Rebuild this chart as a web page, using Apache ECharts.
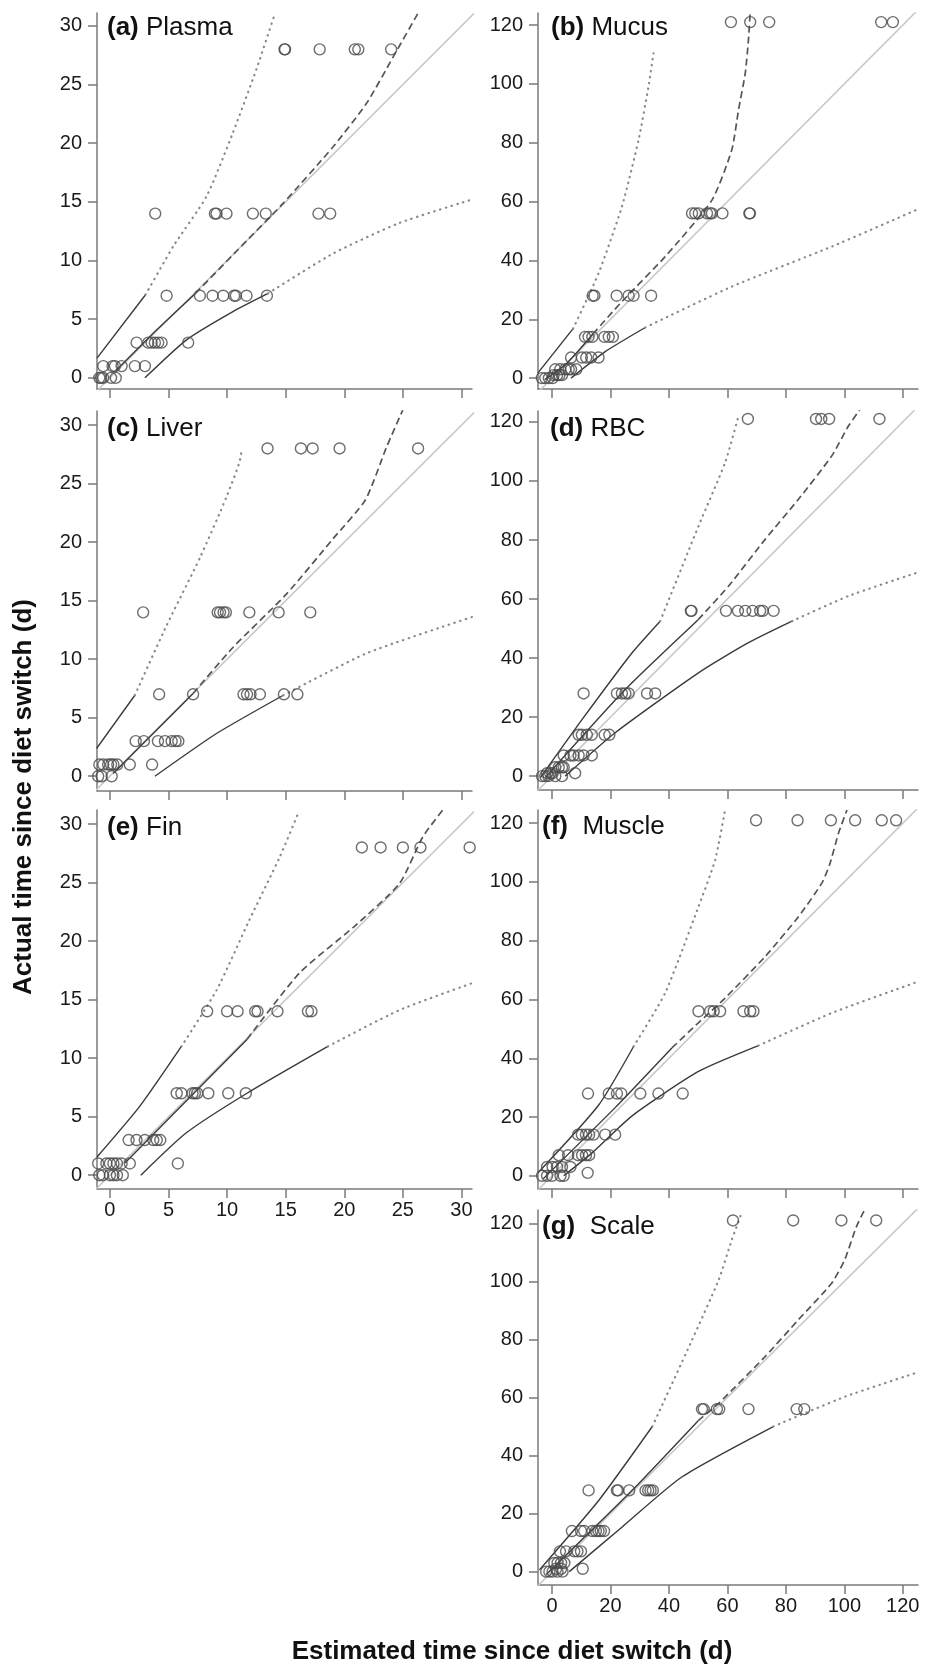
<!DOCTYPE html>
<html>
<head>
<meta charset="utf-8">
<title>Estimated vs actual time since diet switch</title>
<script src="https://cdn.jsdelivr.net/npm/echarts@6/dist/echarts.min.js"></script>
<style>
  html, body { margin: 0; padding: 0; background: #fff; }
  #main { width: 935px; height: 1669px; }
</style>
</head>
<body>
<div id="main"></div>
<script>
// tick values
const ticksShort = [0, 5, 10, 15, 20, 25, 30];
const ticksLong = [0, 20, 40, 60, 80, 100, 120];

// 1:1 reference lines
const diagShort = [[-2, -2], [32, 32]];
const diagLong = [[-6, -6], [130, 130]];

// (a) Plasma
const plasmaPoints = [
    [14.9, 28], [14.95, 28], [17.9, 28], [20.9, 28], [21.2, 28], [24.0, 28],
    [3.87, 14], [8.96, 14], [9.1, 14], [9.95, 14], [12.2, 14], [13.3, 14], [17.8, 14], [18.8, 14],
    [4.84, 7], [7.68, 7], [8.76, 7], [9.67, 7], [10.6, 7], [10.75, 7], [11.66, 7], [13.4, 7],
    [2.28, 3], [3.27, 3], [3.56, 3], [3.84, 3], [4.12, 3], [4.41, 3], [6.68, 3],
    [-0.57, 1], [0.23, 1], [0.43, 1], [1.0, 1], [2.13, 1], [2.99, 1],
    [-0.9, 0], [-0.75, 0], [-0.57, 0], [0.1, 0], [0.5, 0]
];
const plasmaUpper = [[-1.1, 1.68], [3.04, 7.08]];
const plasmaUpperExt = [[3.04, 7.08], [5.4, 11.2], [8.24, 15.46], [10.5, 20.9], [12.5, 26.3], [14.1, 31.1]];
const plasmaMid = [[0.5, 0.6], [4.0, 4.1], [7.3, 7.2]];
const plasmaMidExt = [[7.3, 7.2], [10.9, 10.9], [14.8, 14.9], [19.05, 19.7], [21.9, 23.4], [24.2, 27.4], [26.3, 31.1]];
const plasmaLower = [[2.99, 0], [6.54, 3.24], [10.5, 5.65], [13.5, 7.2]];
const plasmaLowerExt = [[13.5, 7.2], [19.05, 10.6], [24.7, 13.2], [30.9, 15.2]];

// (b) Mucus
const mucusPoints = [
    [61.2, 121], [67.8, 121], [74.3, 121], [112.6, 121], [116.6, 121],
    [47.9, 56], [49.0, 56], [50.2, 56], [53.0, 56], [54.1, 56], [54.7, 56], [58.3, 56], [67.5, 56], [67.7, 56],
    [13.9, 28], [14.5, 28], [22.1, 28], [26.2, 28], [27.9, 28], [33.9, 28],
    [11.3, 14], [12.5, 14], [13.8, 14], [17.9, 14], [19.4, 14], [20.8, 14],
    [6.5, 7], [10.2, 7], [11.7, 7], [13.4, 7], [15.9, 7],
    [1.1, 3], [2.8, 3], [4.5, 3], [5.7, 3], [6.5, 3], [8.3, 3],
    [0.5, 1], [1.7, 1], [2.5, 1], [3.4, 1],
    [-3.5, 0], [-2.3, 0], [-1.1, 0], [0.2, 0]
];
const mucusUpper = [[-4.8, 1.8], [7.2, 16.8]];
const mucusUpperExt = [[7.2, 16.8], [15.9, 35.6], [23.9, 58.3], [29.6, 81], [33, 99.1], [34.7, 110.4]];
const mucusMid = [[-2.5, -0.5], [5, 5], [14, 15]];
const mucusMidExt = [[14, 15], [23.9, 26], [38.7, 41.3], [54.7, 60.5], [61.5, 77.6], [63.8, 91.2], [66.1, 103.6], [67.2, 115], [67.8, 124.6]];
const mucusLower = [[6.5, 0], [18.2, 9], [31.9, 17.2]];
const mucusLowerExt = [[31.9, 17.2], [61.5, 31.1], [95.7, 44.7], [124.5, 57.1]];

// (c) Liver
const liverPoints = [
    [13.45, 28], [16.3, 28], [17.3, 28], [19.6, 28], [26.3, 28],
    [2.84, 14], [9.2, 14], [9.4, 14], [9.7, 14], [9.9, 14], [11.9, 14], [14.4, 14], [17.1, 14],
    [4.2, 7], [7.1, 7], [11.4, 7], [11.7, 7], [12.0, 7], [12.8, 7], [14.85, 7], [16.0, 7],
    [2.2, 3], [2.9, 3], [4.1, 3], [4.7, 3], [5.27, 3], [5.6, 3], [5.84, 3],
    [-0.9, 1], [-0.57, 1], [-0.15, 1], [0.1, 1], [0.3, 1], [0.63, 1], [1.7, 1], [3.6, 1],
    [-1.0, 0], [-0.7, 0], [0.15, 0]
];
const liverUpper = [[-1.14, 2.37], [2.13, 6.92]];
const liverUpperExt = [[2.13, 6.92], [4.8, 12.8], [7.7, 18.7], [9.96, 23.9], [11.2, 27.6], [10.9, 27.9]];
const liverMid = [[0.28, 0.23], [7.1, 7.07]];
const liverMidExt = [[7.1, 7.07], [10.5, 11.0], [15.1, 15.6], [19.05, 20.3], [21.8, 23.6], [23.6, 28.1], [25.0, 31.3]];
const liverLower = [[3.84, 0], [9.1, 3.65], [14.8, 6.92]];
const liverLowerExt = [[14.8, 6.92], [21.9, 10.5], [30.9, 13.6]];

// (d) RBC
const rbcPoints = [
    [67, 121], [90.3, 121], [92.1, 121], [94.8, 121], [112, 121],
    [47.5, 56], [47.7, 56], [59.5, 56], [63.6, 56], [66.1, 56], [68.6, 56], [71.2, 56], [72.1, 56], [75.8, 56],
    [10.8, 28], [22.2, 28], [23.9, 28], [25.1, 28], [26.2, 28], [32.5, 28], [35.3, 28],
    [9.1, 14], [10.2, 14], [11.9, 14], [13.6, 14], [18.0, 14], [19.6, 14],
    [4.0, 7], [6.3, 7], [7.4, 7], [9.1, 7], [10.8, 7], [13.6, 7],
    [1.1, 3], [2.3, 3], [3.4, 3], [4.0, 3],
    [-1.7, 1], [-0.6, 1], [0.2, 1], [7.9, 1],
    [-3.4, 0], [-2.3, 0], [-1.2, 0], [1.1, 0], [3.4, 0]
];
const rbcUpper = [[-4, -0.5], [10.3, 19.2], [27.4, 41.8], [37, 52.5]];
const rbcUpperExt = [[37, 52.5], [50.1, 84.7], [59.2, 106.2], [63.8, 122]];
const rbcMid = [[-2.3, -0.5], [25.1, 29.4], [50, 53]];
const rbcMidExt = [[50, 53], [60.4, 64.4], [72.9, 80.2], [84.3, 93.8], [95.7, 108.5], [101.4, 118.6], [105.4, 124.3]];
const rbcLower = [[4.5, 0], [21.6, 14.7], [50.1, 35], [67.2, 45.2], [82.1, 52.5]];
const rbcLowerExt = [[82.1, 52.5], [101.4, 61], [124.8, 68.9]];

// (e) Fin
const finPoints = [
    [21.5, 28], [23.1, 28], [25.0, 28], [26.5, 28], [30.7, 28],
    [8.3, 14], [10.0, 14], [10.9, 14], [12.4, 14], [12.6, 14], [14.3, 14], [16.9, 14], [17.2, 14],
    [5.7, 7], [6.1, 7], [7.05, 7], [7.25, 7], [7.45, 7], [8.4, 7], [10.1, 7], [11.6, 7],
    [1.6, 3], [2.27, 3], [2.98, 3], [3.7, 3], [4.0, 3], [4.3, 3],
    [-1.0, 1], [-0.3, 1], [0.0, 1], [0.3, 1], [0.6, 1], [1.0, 1], [1.7, 1], [5.8, 1],
    [-0.9, 0], [-0.6, 0], [0.0, 0], [0.3, 0], [0.6, 0], [1.1, 0]
];
const finUpper = [[-1.1, 1.55], [2.56, 5.9], [6.1, 11]];
const finUpperExt = [[6.1, 11], [9.1, 15.8], [11.9, 21.8], [14.5, 27.2], [16.1, 31]];
const finMid = [[1.28, 1.05], [11.7, 11.6]];
const finMidExt = [[11.7, 11.6], [16.2, 17.3], [20.8, 21.2], [24.7, 24.9], [26.7, 28.9], [28.4, 31.2]];
const finLower = [[2.64, 0], [6.5, 3.6], [11.7, 7.0], [18.6, 11]];
const finLowerExt = [[18.6, 11], [24.7, 14.1], [30.9, 16.4]];

// (f) Muscle
const musclePoints = [
    [69.8, 121], [84, 121], [95.4, 121], [103.7, 121], [112.8, 121], [117.7, 121],
    [50.1, 56], [54.1, 56], [55.3, 56], [57.5, 56], [65.5, 56], [67.8, 56], [68.9, 56],
    [12.3, 28], [19.4, 28], [22.2, 28], [23.7, 28], [30.2, 28], [36.4, 28], [44.7, 28],
    [8.9, 14], [10.2, 14], [11.6, 14], [12.7, 14], [14.2, 14], [18.2, 14], [21.6, 14],
    [2.3, 7], [5.5, 7], [8.9, 7], [10.3, 7], [11.6, 7], [12.7, 7],
    [-1.7, 3], [0.2, 3], [1.7, 3], [3.4, 3], [6.3, 3],
    [12.2, 1],
    [-3.4, 0], [-1.7, 0], [0.0, 0], [2.9, 0], [4.0, 0]
];
const muscleUpper = [[-4.8, 1], [15.9, 24], [27.9, 44]];
const muscleUpperExt = [[27.9, 44], [38.7, 62.2], [50.1, 91.6], [55.8, 107.5], [59.2, 124.5]];
const muscleMid = [[-3, -1], [21.6, 23.2], [41, 43.5]];
const muscleMidExt = [[41, 43.5], [50, 52], [59.2, 60.5], [72.9, 74.6], [84.3, 88.2], [92.3, 99.6], [95, 106], [98, 116.6], [100.9, 124.5]];
const muscleLower = [[4, 0], [13.7, 7.8], [27.4, 20.4], [50.1, 35.5], [70.6, 44.3]];
const muscleLowerExt = [[70.6, 44.3], [95.7, 55.4], [125.3, 66.1]];

// (g) Scale
const scalePoints = [
    [61.9, 121], [82.5, 121], [99, 121], [110.9, 121],
    [51.3, 56], [51.9, 56], [56.4, 56], [57.2, 56], [67.2, 56], [83.7, 56], [86.3, 56],
    [12.5, 28], [22.2, 28], [22.6, 28], [26.4, 28], [32.0, 28], [32.9, 28], [33.7, 28], [34.5, 28],
    [6.8, 14], [9.9, 14], [11.0, 14], [13.8, 14], [15.0, 14], [15.9, 14], [16.7, 14], [17.8, 14],
    [2.7, 7], [4.8, 7], [7.6, 7], [8.7, 7], [9.9, 7],
    [0.8, 3], [1.9, 3], [3.1, 3], [4.2, 3],
    [1.4, 1], [3.1, 1], [10.5, 1],
    [-2.0, 0], [-0.9, 0], [0.2, 0], [1.9, 0], [3.6, 0]
];
const scaleUpper = [[-4.3, 0.6], [16.1, 24.7], [34.3, 50]];
const scaleUpperExt = [[34.3, 50], [47.9, 79.8], [57, 100.5], [61.5, 114.3], [65, 124]];
const scaleMid = [[-2, -1], [27.5, 28.1], [50, 52]];
const scaleMidExt = [[50, 52], [57, 58], [72.9, 74.1], [84.2, 86.7], [95.6, 99.3], [100.1, 107.4], [104.1, 118.8], [106.9, 124.6]];
const scaleLower = [[5.9, 0], [24.1, 15.5], [44.5, 32.7], [75.7, 50]];
const scaleLowerExt = [[75.7, 50], [100.3, 60.3], [124, 68.3]];

// the printed figure uses a tall, tight Helvetica; use the narrow face when it is there
function hasFont(name) {
    const ctx = document.createElement('canvas').getContext('2d');
    const probe = 'Estimated time 120';
    ctx.font = '40px monospace';
    const w0 = ctx.measureText(probe).width;
    ctx.font = '40px "' + name + '", monospace';
    return ctx.measureText(probe).width !== w0;
}
const narrow = hasFont('Liberation Sans Narrow');
const font = '"Liberation Sans", Arial, Helvetica, sans-serif';
const axisFont = narrow ? '"Liberation Sans Narrow", "Liberation Sans", Arial, sans-serif' : font;
const tickSize = narrow ? 22 : 20;
const axisTitleSize = narrow ? 31 : 26;

const axisGray = '#7a7a7a';
const dark = '#3a3a3a';

const panels = [
    { label: '(a)', name: ' Plasma', pts: plasmaPoints, up: plasmaUpper, upExt: plasmaUpperExt, mid: plasmaMid, midExt: plasmaMidExt, lo: plasmaLower, loExt: plasmaLowerExt,
      grid: { left: 97, top: 13, width: 375, height: 376 }, xr: [-1.1, 30.9], yr: [-0.95, 31.1], short: true, xLabels: false, tx: 107, ty: 15 },
    { label: '(b)', name: ' Mucus', pts: mucusPoints, up: mucusUpper, upExt: mucusUpperExt, mid: mucusMid, midExt: mucusMidExt, lo: mucusLower, loExt: mucusLowerExt,
      grid: { left: 538, top: 13, width: 380, height: 376 }, xr: [-4.8, 125.2], yr: [-3.7, 124.1], short: false, xLabels: false, tx: 551, ty: 15 },
    { label: '(c)', name: ' Liver', pts: liverPoints, up: liverUpper, upExt: liverUpperExt, mid: liverMid, midExt: liverMidExt, lo: liverLower, loExt: liverLowerExt,
      grid: { left: 97, top: 411, width: 375, height: 380 }, xr: [-1.1, 30.9], yr: [-1.26, 31.2], short: true, xLabels: false, tx: 107, ty: 416 },
    { label: '(d)', name: ' RBC', pts: rbcPoints, up: rbcUpper, upExt: rbcUpperExt, mid: rbcMid, midExt: rbcMidExt, lo: rbcLower, loExt: rbcLowerExt,
      grid: { left: 538, top: 411, width: 380, height: 379 }, xr: [-4.8, 125.2], yr: [-4.7, 123.7], short: false, xLabels: false, tx: 550, ty: 416 },
    { label: '(e)', name: ' Fin', pts: finPoints, up: finUpper, upExt: finUpperExt, mid: finMid, midExt: finMidExt, lo: finLower, loExt: finLowerExt,
      grid: { left: 97, top: 810, width: 375, height: 379 }, xr: [-1.1, 30.9], yr: [-1.18, 31.2], short: true, xLabels: true, tx: 107, ty: 815 },
    { label: '(f)', name: '  Muscle', pts: musclePoints, up: muscleUpper, upExt: muscleUpperExt, mid: muscleMid, midExt: muscleMidExt, lo: muscleLower, loExt: muscleLowerExt,
      grid: { left: 538, top: 810, width: 380, height: 379 }, xr: [-4.8, 125.2], yr: [-4.5, 124.5], short: false, xLabels: false, tx: 542, ty: 814 },
    { label: '(g)', name: '  Scale', pts: scalePoints, up: scaleUpper, upExt: scaleUpperExt, mid: scaleMid, midExt: scaleMidExt, lo: scaleLower, loExt: scaleLowerExt,
      grid: { left: 538, top: 1210, width: 380, height: 375 }, xr: [-4.8, 125.2], yr: [-4.6, 124.6], short: false, xLabels: true, tx: 542, ty: 1214 }
];

const grids = [], xAxes = [], yAxes = [], titles = [], series = [];

panels.forEach((p, i) => {
    const ticks = p.short ? ticksShort : ticksLong;
    grids.push(Object.assign({ containLabel: false }, p.grid));
    const axisBase = {
        type: 'value',
        gridIndex: i,
        splitLine: { show: false },
        axisLine: { show: true, onZero: false, lineStyle: { color: axisGray, width: 1.5 } },
        axisTick: { show: true, length: 9, customValues: ticks, lineStyle: { color: axisGray, width: 1.5 } }
    };
    xAxes.push(Object.assign({}, axisBase, {
        min: p.xr[0], max: p.xr[1],
        axisLabel: { show: p.xLabels, customValues: ticks, margin: 11, fontSize: tickSize, color: '#1a1a1a', fontFamily: axisFont }
    }));
    yAxes.push(Object.assign({}, axisBase, {
        min: p.yr[0], max: p.yr[1],
        axisLabel: { show: true, customValues: ticks, margin: 15, fontSize: tickSize, color: '#1a1a1a', fontFamily: axisFont }
    }));
    titles.push({
        text: '{b|' + p.label + '}' + p.name,
        left: p.tx, top: p.ty, padding: 0,
        textStyle: {
            fontSize: 26, fontWeight: 'normal', color: '#111', fontFamily: font,
            rich: { b: { fontSize: 26, fontWeight: 'bold', color: '#111', fontFamily: font } }
        }
    });

    const base = { type: 'line', xAxisIndex: i, yAxisIndex: i, symbol: 'none', silent: true, clip: true };
    series.push(Object.assign({}, base, { data: p.short ? diagShort : diagLong, z: 1,
        lineStyle: { color: '#c8c8c8', width: 1.6 } }));
    // solid parts of the bounds and of the fitted line
    [p.up, p.mid, p.lo].forEach(d => {
        series.push(Object.assign({}, base, { data: d, smooth: 0.2, z: 3,
            lineStyle: { color: dark, width: 1.4 } }));
    });
    // dotted extrapolation of the bounds
    [p.upExt, p.loExt].forEach(d => {
        series.push(Object.assign({}, base, { data: d, smooth: 0.2, z: 3,
            lineStyle: { color: '#8a8a8a', width: 2.2, type: [0.5, 5.5], cap: 'round' } }));
    });
    // dashed extrapolation of the fitted line
    series.push(Object.assign({}, base, { data: p.midExt, smooth: 0.2, z: 3,
        lineStyle: { color: '#555', width: 1.7, type: [7, 4] } }));
    series.push({
        type: 'scatter', xAxisIndex: i, yAxisIndex: i, data: p.pts, silent: true, z: 5,
        symbol: 'circle', symbolSize: 11,
        itemStyle: { color: 'rgba(255,255,255,0)', borderColor: '#4a4a4a', borderWidth: 1.4 }
    });
});

const chartDom = document.getElementById('main');
const myChart = echarts.init(chartDom, null, { renderer: 'canvas' });
let option = {
    animation: false,
    backgroundColor: '#fff',
    title: titles,
    grid: grids,
    xAxis: xAxes,
    yAxis: yAxes,
    series,
    graphic: [
        {
            type: 'text', x: 24, y: 797, rotation: Math.PI / 2,
            style: { text: 'Actual time since diet switch (d)', font: 'bold ' + axisTitleSize + 'px ' + axisFont, fill: '#111', align: 'center', verticalAlign: 'middle' }
        },
        {
            type: 'text', x: 512, y: 1652,
            style: { text: 'Estimated time since diet switch (d)', font: 'bold ' + axisTitleSize + 'px ' + axisFont, fill: '#111', align: 'center', verticalAlign: 'middle' }
        }
    ]
};
myChart.setOption(option);
</script>
</body>
</html>
